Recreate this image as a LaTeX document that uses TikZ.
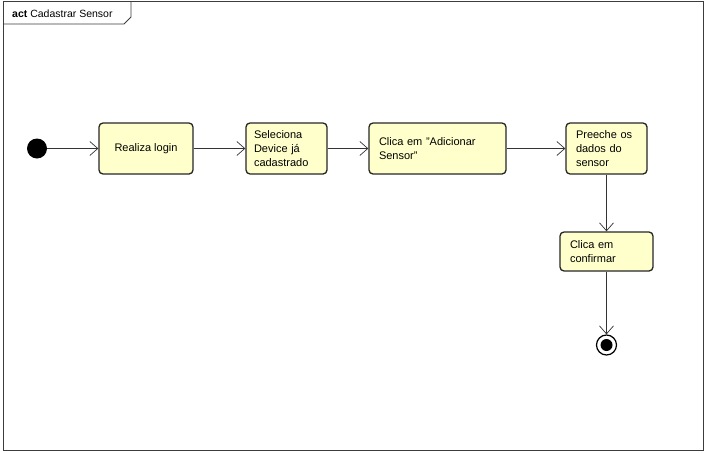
\documentclass[tikz,border=0pt]{standalone}
\usepackage{fontspec}
\setmainfont{Liberation Sans}
\usetikzlibrary{arrows.meta}
\definecolor{actfill}{RGB}{255,255,204}
\definecolor{framegray}{RGB}{60,60,60}
\tikzset{
  act/.style={draw=black!85, fill=actfill, line width=1.3pt, rounded corners=4pt,
    inner sep=0pt, font=\fontsize{11}{14}\selectfont},
  flow/.style={draw=black!80, line width=0.7pt, -{Straight Barb[length=8pt,width=14pt,line width=0.7pt]}},
}
\begin{document}
\begin{tikzpicture}[x=1pt,y=-1pt]
\useasboundingbox (0,0) rectangle (705,453);
% frame
\draw[framegray, line width=0.8pt] (3,1) rectangle (703,450);
\draw[framegray, line width=0.8pt] (3,24) -- (124,24) -- (131,17) -- (131,1);
\node[anchor=base west, inner sep=0pt, font=\fontsize{10.5}{12}\selectfont] (title) at (12,17) {\textbf{act} Cadastrar Sensor};
% initial
\node[circle, fill=black, minimum size=20pt, inner sep=0pt] (start) at (37,148.5) {};
% actions
\node[act, minimum width=94pt, minimum height=51pt] (a1) at (146,148.5) {Realiza login};
\node[act, minimum width=81pt, minimum height=51pt, text width=65pt, align=left] (a2) at (286.5,148.5) {Seleciona\\Device já\\cadastrado};
\node[act, minimum width=137pt, minimum height=51pt, text width=117pt, align=left] (a3) at (437.5,148.5) {Clica em "Adicionar\\Sensor"};
\node[act, minimum width=81pt, minimum height=51pt, text width=61pt, align=left] (a4) at (606.5,148.5) {Preeche os\\dados do\\sensor};
\node[act, minimum width=93pt, minimum height=39pt, text width=73pt, align=left] (a5) at (606.5,251.5) {Clica em\\confirmar};
% final
\node[circle, draw=black, line width=1.2pt, minimum size=20pt, inner sep=0pt] (end) at (606.5,345) {};
\node[circle, fill=black, minimum size=12pt, inner sep=0pt] (endin) at (606.5,345) {};
% flows
\draw[flow] (start) -- (a1);
\draw[flow] (a1) -- (a2);
\draw[flow] (a2) -- (a3);
\draw[flow] (a3) -- (a4);
\draw[flow] (a4) -- (a5);
\draw[flow] (a5) -- (end);
\end{tikzpicture}
\end{document}
